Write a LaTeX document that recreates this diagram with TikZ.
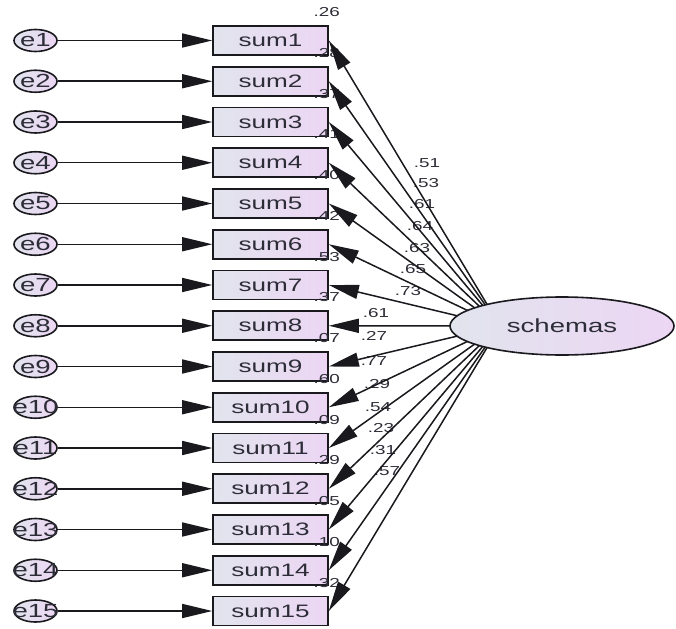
\documentclass[tikz,border=0pt]{standalone}
\usepackage{fontspec}
\newfontfamily\amos{Liberation Sans}[FakeStretch=1.45]
\usetikzlibrary{arrows.meta,shapes.geometric,intersections,calc}
\definecolor{boxL}{RGB}{226,228,238}
\definecolor{boxR}{RGB}{236,214,244}
\definecolor{ink}{RGB}{25,25,30}
\definecolor{txt}{RGB}{45,45,55}
\begin{document}
\begin{tikzpicture}[x=1pt,y=-1pt,
  obs/.style={draw=ink, line width=1.6pt, left color=boxL, right color=boxR,
    minimum width=115pt, minimum height=29pt, inner sep=0pt,
    font=\amos\fontsize{18}{18}\selectfont, text=txt},
  err/.style={ellipse, draw=ink, line width=1.6pt, left color=boxL, right color=boxR,
    minimum width=43pt, minimum height=22pt, inner sep=0pt,
    font=\amos\fontsize{19}{19}\selectfont, text=txt},
  lat/.style={ellipse, draw=ink, line width=1.6pt, left color=boxL, right color=boxR,
    minimum width=224pt, minimum height=58pt, inner sep=0pt,
    font=\amos\fontsize{19}{19}\selectfont, text=txt},
  num/.style={font=\amos\fontsize{13}{13}\selectfont, text=txt, inner sep=0pt},
  conn/.style={draw=ink, line width=1.5pt, -{Triangle[length=30pt,width=14pt]}},
]
\useasboundingbox (0,0) rectangle (676,628);
\fill[white] (0,0) rectangle (676,628);
\node[lat] (lat) at (562,326) {schemas};
\foreach \k in {1,...,15}{
  \pgfmathsetmacro\yy{40.5+(\k-1)*40.75}
  \node[obs] (s\k) at (270.5,\yy) {sum\k};
  \node[err] (e\k) at (35.5,\yy) {\makebox[0pt]{e\k}};
}
% squared multiple correlations
\foreach \k/\v in {1/.26,2/.28,3/.37,4/.41,5/.40,6/.42,7/.53,8/.37,9/.07,10/.60,11/.09,12/.29,13/.05,14/.10,15/.32}{
  \node[num] (r\k) at ([shift={(-2,-13)}]s\k.north east) {\v};
}
% loadings
\node[num] (w1) at (427,163) {.51};
\node[num] (w2) at (426,183) {.53};
\node[num] (w3) at (422,204) {.61};
\node[num] (w4) at (420,226) {.64};
\node[num] (w5) at (417,248) {.63};
\node[num] (w6) at (413,269) {.65};
\node[num] (w7) at (408,291) {.73};
\node[num] (w8) at (376,313) {.61};
\node[num] (w9) at (374,336) {.27};
\node[num] (w10) at (374,361) {.77};
\node[num] (w11) at (377,384) {.29};
\node[num] (w12) at (378,407) {.54};
\node[num] (w13) at (381,428) {.23};
\node[num] (w14) at (383,450) {.31};
\node[num] (w15) at (387,471) {.57};
% error arrows
\foreach \k in {1,...,15}{
  \draw[conn] (e\k) -- (s\k);
}
% loading arrows
\path[name path=ell] (562,326) ellipse [x radius=112pt, y radius=29pt];
\coordinate (F) at (500,326);
\foreach \k in {1,...,15}{
  \path[name path=ln\k] (s\k.east) -- (F);
  \path[name intersections={of=ell and ln\k, by={st\k}}];
  \draw[conn] (st\k) -- (s\k.east);
}
\end{tikzpicture}
\end{document}
